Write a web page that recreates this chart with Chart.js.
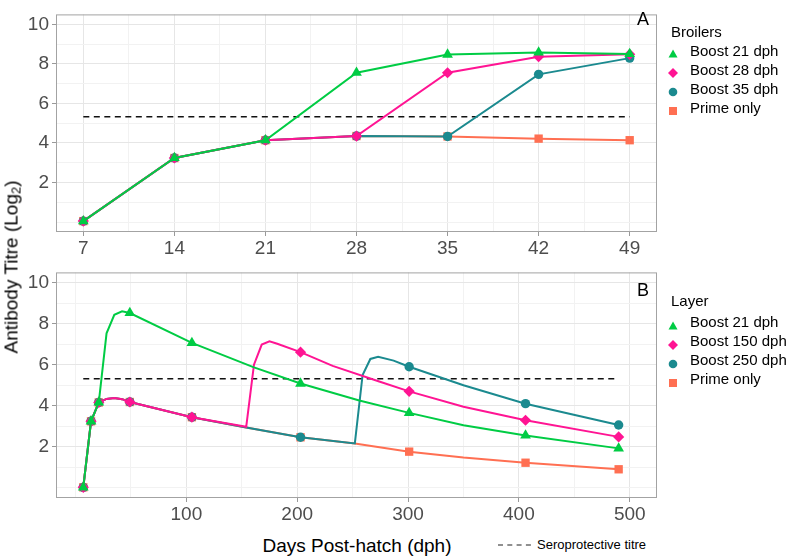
<!DOCTYPE html>
<html>
<head>
<meta charset="utf-8">
<script src="https://cdn.jsdelivr.net/npm/chart.js@4"></script>
<style>
  body { margin: 0; background: #fff; }
  #wrap { position: relative; width: 789px; height: 558px; font-family: "Liberation Sans", Arial, sans-serif; overflow: hidden; }
  #wrap canvas { position: absolute; left: 0; }
  .txt { position: absolute; white-space: nowrap; line-height: 1; }
  .mid { transform: translate(-50%, -50%); }
  .leg { position: absolute; font-size: 15px; line-height: 1; white-space: nowrap; color: #000; }
  .sym { position: absolute; }
</style>
</head>
<body>
<div id="wrap">
  <canvas id="broilers" width="789" height="258" style="top:0"></canvas>
  <canvas id="layer" width="789" height="266" style="top:258px"></canvas>

  <div class="txt mid" style="left:12px; top:267px; font-size:19px; transform: translate(-50%,-50%) rotate(-90deg);">Antibody Titre (Log<sub style="font-size:13px; vertical-align:-3px;">2</sub>)</div>
  <div class="txt mid" style="left:357px; top:545px; font-size:19px;">Days Post-hatch (dph)</div>
  <div class="txt mid" style="left:643px; top:19px; font-size:18px;">A</div>
  <div class="txt mid" style="left:643px; top:290px; font-size:18px;">B</div>
  <svg class="sym" style="left:497px; top:540px" width="38" height="10"><line x1="1" y1="5" x2="37" y2="5" stroke="#222" stroke-width="1.2" stroke-dasharray="5 4.3"/></svg>
  <div class="txt" style="left:537px; top:538px; font-size:13px;">Seroprotective titre</div>
</div>

<script>
// broilers (panel A)
const broilerDays = [7, 14, 21, 28, 35, 42, 49];
const broilerBoost21 = [0.05, 3.24, 4.14, 7.55, 8.47, 8.58, 8.5];
const broilerBoost28 = [0.05, 3.24, 4.14, 4.35, 7.55, 8.36, 8.48];
const broilerBoost35 = [0.05, 3.24, 4.14, 4.35, 4.33, 7.47, 8.29];
const broilerPrime = [0.05, 3.24, 4.14, 4.35, 4.33, 4.22, 4.14];
const broilerNames = ['Boost 21 dph', 'Boost 28 dph', 'Boost 35 dph', 'Prime only'];

// layer (panel B)
const layerBoost21Days = [7, 14, 21, 28, 35, 42, 49, 105, 161, 203, 256, 301, 350, 406, 490];
const layerBoost21 = [0.02, 3.24, 4.16, 7.53, 8.43, 8.6, 8.52, 7.06, 5.87, 5.08, 4.25, 3.65, 3.05, 2.55, 1.92];
const layerBoost150Days = [7, 14, 21, 28, 35, 42, 49, 105, 154, 161, 168, 175, 182, 203, 232, 274, 301, 350, 406, 490];
const layerBoost150 = [0.02, 3.24, 4.16, 4.33, 4.38, 4.32, 4.18, 3.44, 2.97, 6.0, 6.98, 7.14, 7.02, 6.61, 5.94, 5.18, 4.7, 3.95, 3.29, 2.48];
const layerBoost250Days = [7, 14, 21, 28, 35, 42, 49, 105, 154, 203, 252, 259, 266, 273, 287, 301, 350, 406, 490];
const layerBoost250 = [0.02, 3.24, 4.16, 4.33, 4.38, 4.32, 4.18, 3.44, 2.94, 2.46, 2.16, 5.5, 6.28, 6.38, 6.2, 5.9, 5.0, 4.1, 3.06];
const layerPrimeDays = [7, 14, 21, 28, 35, 42, 49, 105, 154, 203, 252, 301, 350, 406, 490];
const layerPrime = [0.02, 3.24, 4.16, 4.33, 4.38, 4.32, 4.18, 3.44, 2.94, 2.46, 2.16, 1.76, 1.47, 1.22, 0.9];
const layerMarkerDays = [7, 14, 21, 49, 105, 203, 301, 406, 490];
const layerNames = ['Boost 21 dph', 'Boost 150 dph', 'Boost 250 dph', 'Prime only'];

const seroTitre = 5.32;
const broilerSeroDays = [7, 49];
const layerSeroDays = [7, 490];

// axes
const yGrid = [0, 1, 2, 3, 4, 5, 6, 7, 8, 9, 10];
const yLabels = [2, 4, 6, 8, 10];
const broilerXGrid = [7, 10.5, 14, 17.5, 21, 24.5, 28, 31.5, 35, 38.5, 42, 45.5, 49];
const broilerXLabels = [7, 14, 21, 28, 35, 42, 49];
const layerXGrid = [0, 50, 100, 150, 200, 250, 300, 350, 400, 450, 500];
const layerXLabels = [100, 200, 300, 400, 500];

const colors = ['#00CC44', '#FF1493', '#1B8A8F', '#FF6F52'];
const shapes = ['triangle', 'rectRot', 'circle', 'rect'];
const radii = [6.2, 5.6, 4.7, 5.9];

const FONT = '"Liberation Sans", Arial, sans-serif';
const MAJOR = '#e6e6e6';
const MINOR = '#f2f2f2';

const panelBorder = {
  id: 'panelBorder',
  afterDraw(chart) {
    const a = chart.chartArea, c = chart.ctx;
    c.save();
    c.strokeStyle = '#a3a3a3';
    c.lineWidth = 1;
    c.strokeRect(a.left + 0.5, a.top + 0.5, a.right - a.left - 1, a.bottom - a.top - 1);
    c.restore();
  }
};

function xScale(min, max, grid, labels) {
  return {
    type: 'linear', min: min, max: max,
    afterBuildTicks: ax => { ax.ticks = grid.map(v => ({ value: v })); },
    afterFit: ax => { ax.height = 26; },
    ticks: {
      autoSkip: false, maxRotation: 0, padding: 1, color: '#4d4d4d',
      font: { size: 19, family: FONT },
      callback: v => labels.includes(v) ? String(v) : ''
    },
    grid: {
      color: c => labels.includes(c.tick.value) ? MAJOR : MINOR,
      tickColor: c => labels.includes(c.tick.value) ? '#999' : 'rgba(0,0,0,0)',
      tickLength: 4, lineWidth: 1
    },
    border: { display: false }
  };
}

function yScale() {
  return {
    min: -0.5, max: 10.5,
    afterBuildTicks: ax => { ax.ticks = yGrid.map(v => ({ value: v })); },
    afterFit: ax => { ax.width = 56; },
    ticks: {
      autoSkip: false, padding: 3, color: '#4d4d4d',
      font: { size: 19, family: FONT },
      callback: v => yLabels.includes(v) ? String(v) : ''
    },
    grid: {
      color: c => yLabels.includes(c.tick.value) ? MAJOR : MINOR,
      tickColor: c => yLabels.includes(c.tick.value) ? '#999' : 'rgba(0,0,0,0)',
      tickLength: 4, lineWidth: 1
    },
    border: { display: false }
  };
}

function pts(days, vals) {
  return days.map((d, i) => ({ x: d, y: vals[i] }));
}

function makeChart(id, series, names, seroDays, xOpts, markerDays, padTop) {
  const datasets = series.map((s, i) => ({
    label: names[i],
    data: pts(s[0], s[1]),
    borderColor: colors[i],
    backgroundColor: colors[i],
    borderWidth: 2,
    pointStyle: shapes[i],
    pointRadius: c => (!markerDays || markerDays.includes(c.raw.x)) ? radii[i] : 0,
    pointBorderWidth: 0,
    tension: 0,
    clip: false
  }));
  datasets.push({
    label: 'Seroprotective titre',
    data: pts(seroDays, [seroTitre, seroTitre]),
    borderColor: '#111',
    borderWidth: 1.5,
    borderDash: [6, 4.5],
    pointRadius: 0
  });
  return new Chart(document.getElementById(id), {
    type: 'line',
    data: { datasets: datasets },
    options: {
      responsive: false,
      animation: false,
      layout: { padding: { top: padTop, right: 132, bottom: 0, left: 0 } },
      plugins: { legend: { display: false }, tooltip: { enabled: false } },
      scales: { x: xOpts, y: yScale() }
    },
    plugins: [panelBorder]
  });
}

makeChart('broilers',
  [[broilerDays, broilerBoost21], [broilerDays, broilerBoost28], [broilerDays, broilerBoost35], [broilerDays, broilerPrime]],
  broilerNames, broilerSeroDays, xScale(4.9, 51.1, broilerXGrid, broilerXLabels), null, 2);

makeChart('layer',
  [[layerBoost21Days, layerBoost21], [layerBoost150Days, layerBoost150], [layerBoost250Days, layerBoost250], [layerPrimeDays, layerPrime]],
  layerNames, layerSeroDays, xScale(-17.6, 524.6, layerXGrid, layerXLabels), layerMarkerDays, 10);

// legends
function symbolSvg(i) {
  const c = colors[i];
  let shape;
  if (i === 0) shape = '<polygon points="5,0.5 9.5,8.5 0.5,8.5" fill="' + c + '"/>';
  else if (i === 1) shape = '<polygon points="5,0 10,5 5,10 0,5" fill="' + c + '"/>';
  else if (i === 2) shape = '<circle cx="5" cy="5" r="4.3" fill="' + c + '"/>';
  else shape = '<rect x="1" y="1" width="8" height="8" fill="' + c + '"/>';
  return '<svg width="10" height="10">' + shape + '</svg>';
}

function legend(title, names, titleY, firstY) {
  const wrap = document.getElementById('wrap');
  const t = document.createElement('div');
  t.className = 'leg';
  t.style.left = '671px';
  t.style.top = (titleY - 7.5) + 'px';
  t.textContent = title;
  wrap.appendChild(t);
  names.forEach((n, i) => {
    const y = firstY + i * 19;
    const s = document.createElement('div');
    s.className = 'sym';
    s.style.left = '668px';
    s.style.top = (y - 5) + 'px';
    s.innerHTML = symbolSvg(i);
    wrap.appendChild(s);
    const l = document.createElement('div');
    l.className = 'leg';
    l.style.left = '690px';
    l.style.top = (y - 7.5) + 'px';
    l.textContent = n;
    wrap.appendChild(l);
  });
}

legend('Broilers', broilerNames, 31, 50);
legend('Layer', layerNames, 300, 321.5);
</script>
</body>
</html>
